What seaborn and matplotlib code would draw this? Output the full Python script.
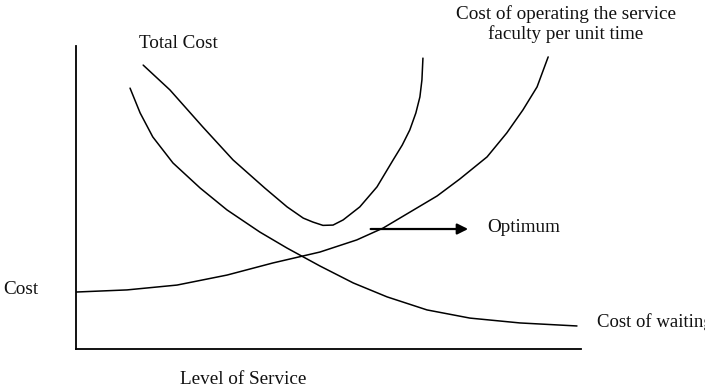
import matplotlib
matplotlib.use("Agg")
import matplotlib.pyplot as plt
import pandas as pd
import seaborn as sns

# curves (level of service 0-100, cost 0-100)
total_x = [13.3, 18.6, 25.1, 31.1, 37.4, 41.8, 45.0, 46.9, 48.9, 50.9, 52.9, 56.2, 59.6, 62.8, 64.6, 66.1, 67.3, 68.1, 68.5, 68.7]
total_y = [93.7, 85.5, 73.3, 62.4, 53.1, 46.9, 43.2, 41.9, 40.8, 40.9, 42.6, 46.9, 53.5, 62.4, 67.3, 72.3, 77.9, 83.2, 88.8, 96.0]

waiting_x = [10.7, 12.7, 15.2, 19.2, 24.6, 29.9, 36.4, 41.8, 48.3, 54.9, 61.6, 69.5, 78.0, 87.9, 99.2]
waiting_y = [86.1, 77.9, 70.0, 61.4, 53.1, 45.9, 38.6, 33.3, 27.4, 21.8, 17.2, 12.9, 10.2, 8.6, 7.6]

operating_x = [0.0, 10.1, 20.0, 29.9, 39.0, 48.3, 55.6, 60.8, 71.5, 76.0, 81.4, 85.3, 88.5, 91.3, 93.5]
operating_y = [18.8, 19.5, 21.1, 24.4, 28.4, 32.0, 36.0, 39.9, 50.5, 56.1, 63.4, 71.3, 78.9, 86.5, 96.4]

optimum_arrow = [57.8, 78.2, 39.6]  # x start, x end, y

sns.set_theme(style="white")
plt.rcParams['font.family'] = ['Liberation Serif', 'DejaVu Serif']

W, H = 705, 388
fig = plt.figure(figsize=(W / 100, H / 100), dpi=100)
ax = fig.add_axes([76 / W, 1 - 349 / H, (581 - 76) / W, (349 - 46) / H])

curves = [
    pd.DataFrame({'x': total_x, 'y': total_y}),
    pd.DataFrame({'x': waiting_x, 'y': waiting_y}),
    pd.DataFrame({'x': operating_x, 'y': operating_y}),
]
for df in curves:
    sns.lineplot(data=df, x='x', y='y', sort=False, color='black', lw=1.1,
                 solid_joinstyle='round', ax=ax)

ax.annotate('', xy=(optimum_arrow[1], optimum_arrow[2]), xytext=(optimum_arrow[0], optimum_arrow[2]),
            arrowprops=dict(arrowstyle='-|>', color='black', lw=1.6, mutation_scale=16))

ax.set_xlim(0, 100)
ax.set_ylim(0, 100)
ax.set_xticks([])
ax.set_yticks([])
ax.set_xlabel('')
ax.set_ylabel('')
for s in ['top', 'right']:
    ax.spines[s].set_visible(False)
for s in ['left', 'bottom']:
    ax.spines[s].set_color('black')
    ax.spines[s].set_linewidth(1.3)

fs = 13.8
def put(px, py, s, ha='left', size=fs):
    fig.text(px / W, 1 - py / H, s, ha=ha, va='center', fontsize=size, color='#111111')

put(139, 44, 'Total Cost')
put(566, 14, 'Cost of operating the service', ha='center')
put(566, 34, 'faculty per unit time', ha='center')
put(487, 228, 'Optimum')
put(597, 322, 'Cost of waiting', size=13.5)
put(3, 290, 'Cost')
put(243, 379, 'Level of Service', ha='center')

fig.savefig('out.png', dpi=100)
